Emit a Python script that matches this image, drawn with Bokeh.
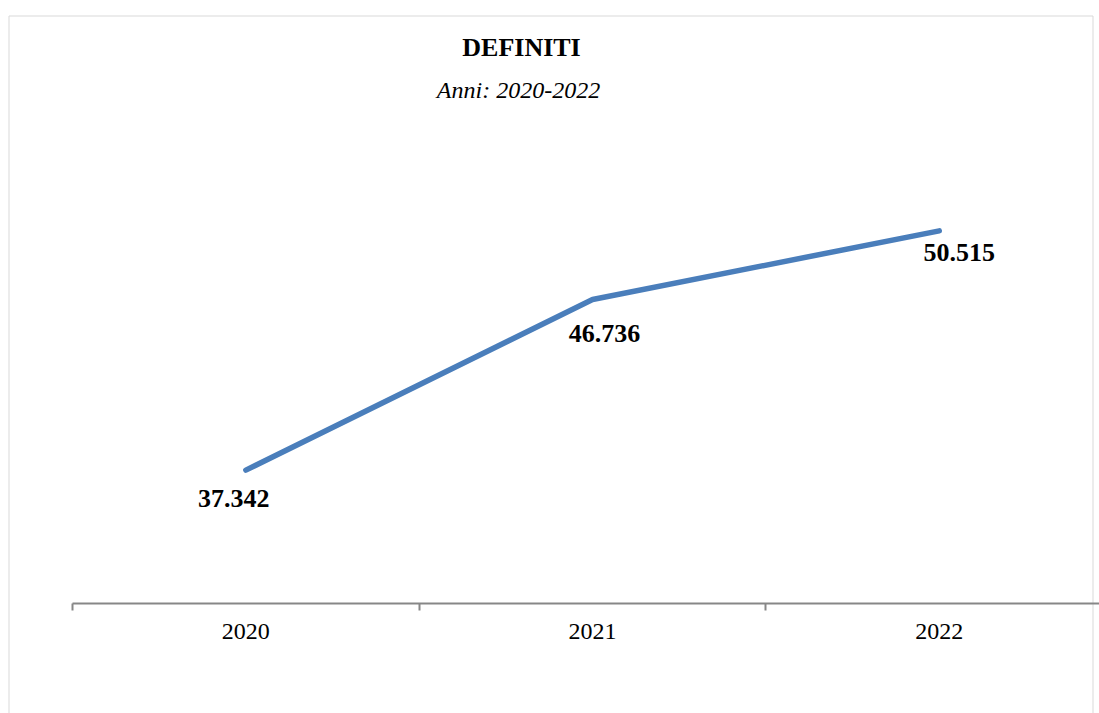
from bokeh.plotting import figure
from bokeh.models import LinearAxis, FixedTicker, Label, Range1d
from bokeh.embed import file_html
from bokeh.resources import INLINE
from bokeh.core.properties import value

# ---- data ----
categories = ["2020", "2021", "2022"]
definiti = [37342, 46736, 50515]
title_text = "DEFINITI"
subtitle_text = "Anni: 2020-2022"
axis_base = 30000

# ---- layout geometry (page pixels) ----
FIG_W, FIG_H = 1099, 713
PAGE_X0, PAGE_Y0 = 0, 0
X0_PX, X_STEP = 72.0, 346.7      # category boundary 0 at px 72
Y0_PX, Y_UPP = 603.0, 55.05      # axis base at px 603, units per pixel


def px_x(px):
    return (px - X0_PX) / X_STEP


def px_y(py):
    return axis_base + (Y0_PX - py) * Y_UPP


x_start, x_end = px_x(PAGE_X0), px_x(PAGE_X0 + FIG_W)
y_start, y_end = px_y(PAGE_Y0 + FIG_H), px_y(PAGE_Y0)

FONT = "Liberation Serif"

p = figure(width=FIG_W, height=FIG_H,
           x_range=Range1d(x_start, x_end), y_range=Range1d(y_start, y_end),
           x_axis_location=None, y_axis_location=None,
           toolbar_location=None, output_backend="svg",
           min_border=0, outline_line_color=None,
           background_fill_color="white", border_fill_color="white")
p.xgrid.visible = False
p.ygrid.visible = False

# chart-area border (left, top, right)
bx_l, bx_r = px_x(8.5), px_x(1092.5)
by_t = px_y(15.5)
p.line(x=[bx_l, bx_l, bx_r, bx_r], y=[y_start - 5000, by_t, by_t, y_start - 5000],
       line_color="#d9d9d9", line_width=1)

xs = [i + 0.5 for i in range(len(categories))]
labels = [f"{v:,}".replace(",", ".") for v in definiti]

p.line(x=xs, y=definiti, line_color="#4a7ebb", line_width=5.5,
       line_cap="round", line_join="round")

label_dx = [-12, 12, 20]
label_dy = [28, 34, 22]
p.text(x=xs, y=definiti, text=labels, x_offset=label_dx, y_offset=label_dy,
       text_font=value(FONT), text_font_style="bold", text_font_size="26px",
       text_align="center", text_baseline="middle", text_color="black")

# axis with ticks at category boundaries
ax1 = LinearAxis(fixed_location=axis_base,
                 ticker=FixedTicker(ticks=list(range(len(categories) + 1))),
                 bounds=(0, len(categories)),
                 axis_line_color="#878787", axis_line_width=2,
                 major_tick_line_color="#878787", major_tick_line_width=2,
                 major_tick_out=7, major_tick_in=0,
                 minor_tick_line_color=None,
                 major_label_text_color=None)
p.add_layout(ax1, "below")

# axis carrying the category labels at centers
ax2 = LinearAxis(fixed_location=axis_base,
                 ticker=FixedTicker(ticks=xs),
                 major_label_overrides={x: c for x, c in zip(xs, categories)},
                 axis_line_color=None, major_tick_line_color=None,
                 minor_tick_line_color=None,
                 major_label_standoff=14,
                 major_label_text_font=FONT, major_label_text_font_size="24px",
                 major_label_text_color="black")
p.add_layout(ax2, "below")

p.add_layout(Label(x=px_x(521), y=px_y(47), text=title_text,
                   text_align="center", text_baseline="middle",
                   text_font=FONT, text_font_style="bold",
                   text_font_size="26px", text_color="black"))
p.add_layout(Label(x=px_x(518), y=px_y(89), text=subtitle_text,
                   text_align="center", text_baseline="middle",
                   text_font=FONT, text_font_style="italic",
                   text_font_size="24px", text_color="black"))

open("out.html", "w").write(file_html(p, INLINE))
